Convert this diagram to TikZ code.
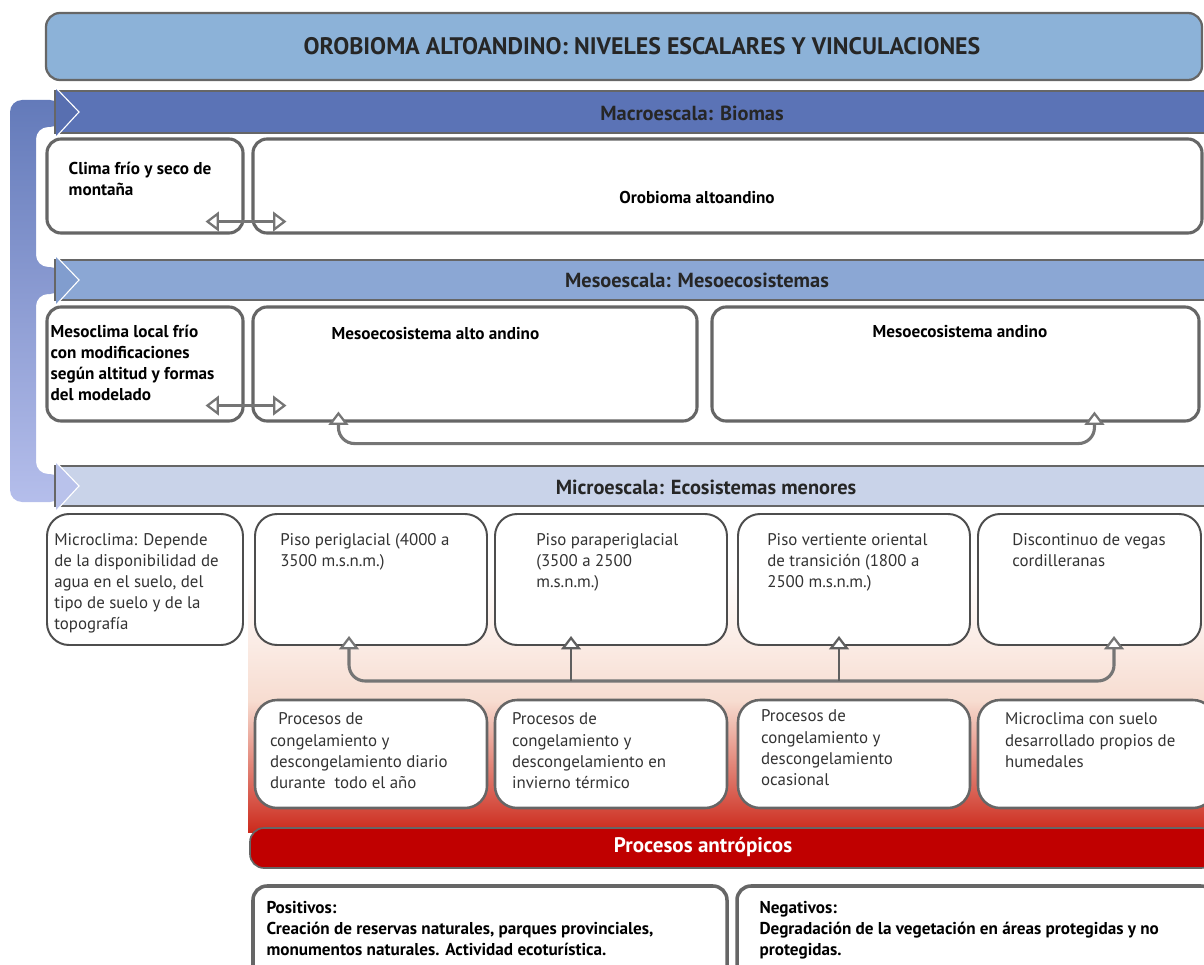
\documentclass[tikz,border=0pt]{standalone}
\usepackage{fontspec}
\setmainfont{PT Sans}
\usetikzlibrary{positioning,calc,fit,arrows.meta}

\definecolor{titlefill}{HTML}{8CB2D8}
\definecolor{macrofill}{HTML}{5B73B6}
\definecolor{mesofill}{HTML}{8BA7D4}
\definecolor{microfill}{HTML}{C9D3E9}
\definecolor{redbar}{HTML}{C00000}
\definecolor{peach}{HTML}{F7DCD0}
\definecolor{warmred}{HTML}{CC2A1C}
\definecolor{bordergray}{HTML}{666666}
\definecolor{darkgray}{HTML}{4D4D4D}
\definecolor{textgray}{HTML}{333333}

\newcommand\bodyfont{\fontsize{12}{15}\selectfont}
\newcommand\heavyfont{\fontsize{12.2}{15}\selectfont\bfseries}

\tikzset{
  bar/.style={draw=bordergray, line width=1.2pt, inner sep=0pt},
  titlebar/.style={bar, fill=titlefill, line width=1.6pt, rounded corners=0.35cm},
  scalebox/.style={draw=bordergray, line width=2.2pt, fill=white, rounded corners=0.35cm, inner sep=0pt},
  floorbox/.style={draw=darkgray, line width=1.4pt, fill=white, rounded corners=0.55cm, inner sep=0pt},
  procbox/.style={draw=bordergray, line width=1.8pt, fill=white, rounded corners=0.55cm, inner sep=0pt},
  bartxt/.style={font=\fontsize{14.5}{16}\selectfont\bfseries, text=black!85},
  heavytxt/.style={font=\heavyfont, align=left, anchor=north west, inner sep=0pt, text=black},
  bodytxt/.style={font=\bodyfont, align=left, anchor=north west, inner sep=0pt, text=textgray},
  tip/.style={Triangle[length=9.5pt,width=14pt,fill=white,line width=1.6pt]},
  dbl/.style={draw=bordergray!90, line width=2.2pt, {Triangle[length=9.5pt,width=14pt,fill=white,line width=1.6pt]}-{Triangle[length=9.5pt,width=14pt,fill=white,line width=1.6pt]}},
  link/.style={draw=darkgray!90, line width=2pt, rounded corners=0.4cm},
  uptip/.style={-{Triangle[length=9.5pt,width=14pt,fill=white,line width=1.6pt]}},
  head/.style={draw=white, line width=0.8pt}
}

\begin{document}
\begin{tikzpicture}[x=0.025cm,y=-0.025cm]
  \useasboundingbox (0,0) rectangle (1204,965);
  \clip (0,0) rectangle (1204,965);

  % bracket on the left
  \shade[top color=macrofill!95, bottom color=microfill!90!blue, rounded corners=0.3cm]
    (62,100) -- (10,100) -- (10,502) -- (62,502) -- (62,474) -- (36,474) -- (36,294)
    -- (62,294) -- (62,267) -- (36,267) -- (36,127) -- (62,127) -- cycle;

  % title and scale bars
  \node[titlebar, fit={(46,13) (1202,80)}] (title) {};
  \node[font=\fontsize{17}{19}\selectfont\bfseries, text=black!85] (titleT) at (642,46)
    {OROBIOMA ALTOANDINO: NIVELES ESCALARES Y VINCULACIONES};

  \node[bar, fill=macrofill, fit={(55,91) (1215,133)}] (macro) {};
  \node[bar, fill=mesofill, fit={(55,260) (1215,300)}] (meso) {};
  \node[bar, fill=microfill, fit={(55,466) (1215,506)}] (micro) {};

  % arrow heads of the bracket
  \fill[macrofill!97!black] (56,88) -- (79,112) -- (56,137) -- cycle;
  \draw[head] (56,88) -- (79,112) -- (56,137);
  \fill[mesofill!80!macrofill] (56,256) -- (79,280) -- (56,305) -- cycle;
  \draw[head] (56,256) -- (79,280) -- (56,305);
  \fill[microfill!92!blue] (56,462) -- (79,486) -- (56,511) -- cycle;
  \draw[head] (56,462) -- (79,486) -- (56,511);

  \node[bartxt] (macroT) at (692,113) {Macroescala: Biomas};
  \node[bartxt] (mesoT) at (697,280) {Mesoescala: Mesoecosistemas};
  \node[bartxt] (microT) at (706,487) {Microescala: Ecosistemas menores};

  % macro level
  \node[scalebox, fit={(47,139) (243,233)}] (clima) {};
  \node[scalebox, fit={(253,139) (1202,233)}] (oro) {};
  \node[heavytxt] (climaT) at ($(clima.north west)+(23,24)$) {Clima frío y seco de\\montaña};
  \node[font=\heavyfont, inner sep=0pt] (oroT) at (697,197) {Orobioma altoandino};
  \draw[dbl] ($(clima.south east)+(-39,-13)$) -- ($(oro.south west)+(35,-13)$);

  % meso level
  \node[scalebox, fit={(47,307) (243,421)}] (mesoclima) {};
  \node[scalebox, fit={(253,307) (697,421)}] (altoand) {};
  \node[scalebox, fit={(712,307) (1199,421)}] (andino) {};
  \node[heavytxt] (mesoclimaT) at ($(mesoclima.north west)+(5,19)$)
    {Mesoclima local frío\\con modificaciones\\según altitud y formas\\del modelado};
  \node[heavytxt] (altoandT) at ($(altoand.north west)+(80,22)$) {Mesoecosistema alto andino};
  \node[heavytxt] (andinoT) at ($(andino.north west)+(162,20)$) {Mesoecosistema andino};
  \draw[dbl] ($(mesoclima.south east)+(-39,-17)$) -- ($(altoand.south west)+(35,-17)$);
  \coordinate (mA) at ($(altoand.south west)+(87,-11)$);
  \coordinate (mB) at ($(andino.south west)+(384,-11)$);
  \coordinate (mbus) at ($(altoand.south)+(0,21)$);
  \draw[link, dbl] (mA) -- (mA |- mbus) -- (mB |- mbus) -- (mB);

  % micro level
  \shade[top color=white, bottom color=peach] (248,570) rectangle (1215,702);
  \shade[top color=peach, bottom color=warmred] (248,701) rectangle (1215,832);
  \node[floorbox, fit={(47,514) (243,645)}] (microclima) {};
  \node[floorbox, fit={(255,514) (487,645)}] (piso1) {};
  \node[floorbox, fit={(495,514) (727,645)}] (piso2) {};
  \node[floorbox, fit={(738,514) (970,645)}] (piso3) {};
  \node[floorbox, fit={(978,514) (1201,645)}] (piso4) {};
  \node[bodytxt] (microclimaT) at ($(microclima.north west)+(8,20)$)
    {Microclima: Depende\\de la disponibilidad de\\agua en el suelo, del\\tipo de suelo y de la\\topografía};
  \node[bodytxt] (piso1T) at ($(piso1.north west)+(26,20)$) {Piso periglacial (4000 a\\3500 m.s.n.m.)};
  \node[bodytxt] (piso2T) at ($(piso2.north west)+(42,20)$) {Piso paraperiglacial\\(3500 a 2500\\m.s.n.m.)};
  \node[bodytxt] (piso3T) at ($(piso3.north west)+(30,20)$) {Piso vertiente oriental\\de transición (1800 a\\2500 m.s.n.m.)};
  \node[bodytxt] (piso4T) at ($(piso4.north west)+(35,20)$) {Discontinuo de vegas\\cordilleranas};

  \coordinate (p1) at ($(piso1.south west)+(95,-10)$);
  \coordinate (p2) at ($(piso2.south west)+(77,-10)$);
  \coordinate (p3) at ($(piso3.south west)+(102,-10)$);
  \coordinate (p4) at ($(piso4.south west)+(137,-10)$);
  \coordinate (pbus) at ($(piso1.south)+(0,35)$);
  \draw[link, dbl] (p1) -- (p1 |- pbus) -- (p4 |- pbus) -- (p4);
  \draw[link, uptip] (p2 |- pbus) -- (p2);
  \draw[link, uptip] (p3 |- pbus) -- (p3);

  % processes
  \node[procbox, fit={(255,700) (487,808)}] (proc1) {};
  \node[procbox, fit={(495,700) (727,808)}] (proc2) {};
  \node[procbox, fit={(738,700) (970,808)}] (proc3) {};
  \node[procbox, fit={(978,700) (1215,808)}] (proc4) {};
  \node[bodytxt] (proc1T) at ($(proc1.north west)+(16,14)$)
    {\hspace{0.5em}Procesos de\\congelamiento y\\descongelamiento diario\\durante\ \ todo el año};
  \node[bodytxt] (proc2T) at ($(proc2.north west)+(18,14)$)
    {Procesos de\\congelamiento y\\descongelamiento en\\invierno térmico};
  \node[bodytxt] (proc3T) at ($(proc3.north west)+(24,11)$)
    {Procesos de\\congelamiento y\\descongelamiento\\ocasional};
  \node[bodytxt] (proc4T) at ($(proc4.north west)+(28,14)$)
    {Microclima con suelo\\desarrollado propios de\\humedales};

  % anthropic processes
  \node[bar, fill=redbar, rounded corners=0.35cm, fit={(250,828) (1215,868)}] (antro) {};
  \node[bartxt, font=\fontsize{15}{17}\selectfont\bfseries, text=white] (antroT) at (703,847) {Procesos antrópicos};
  \node[scalebox, line width=2.5pt, fit={(253,886) (727,995)}] (positivos) {};
  \node[scalebox, line width=2.5pt, fit={(737,886) (1215,995)}] (negativos) {};
  \node[heavytxt] (positivosT) at ($(positivos.north west)+(15,17)$)
    {Positivos:\\Creación de reservas naturales, parques provinciales,\\monumentos naturales. Actividad ecoturística.};
  \node[heavytxt] (negativosT) at ($(negativos.north west)+(24,17)$)
    {Negativos:\\Degradación de la vegetación en áreas protegidas y no\\protegidas.};
\end{tikzpicture}
\end{document}
